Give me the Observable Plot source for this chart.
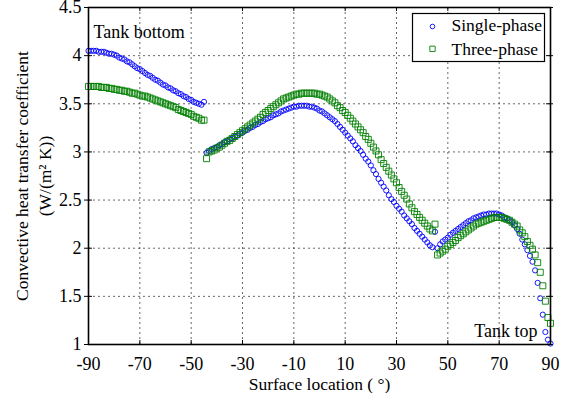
<!DOCTYPE html>
<html><head><meta charset="utf-8">
<script src="https://cdn.jsdelivr.net/npm/d3@7"></script>
<script src="https://cdn.jsdelivr.net/npm/@observablehq/plot@0.6"></script>
<style>html,body{margin:0;padding:0;background:#fff;}</style>
</head><body><div id="chart"></div>
<script>
// Surface location (degrees), three measured segments
const angles1 = [-90,-89,-88,-87,-86,-85,-84,-83,-82,-81,-80,-79,-78,-77,-76,-75,-74,-73,-72,-71,-70,-69,-68,-67,-66,-65,-64,-63,-62,-61,-60,-59,-58,-57,-56,-55,-54,-53,-52,-51,-50,-49,-48,-47,-46,-45];
const angles2 = [-44,-43,-42,-41,-40,-39,-38,-37,-36,-35,-34,-33,-32,-31,-30,-29,-28,-27,-26,-25,-24,-23,-22,-21,-20,-19,-18,-17,-16,-15,-14,-13,-12,-11,-10,-9,-8,-7,-6,-5,-4,-3,-2,-1,0,1,2,3,4,5,6,7,8,9,10,11,12,13,14,15,16,17,18,19,20,21,22,23,24,25,26,27,28,29,30,31,32,33,34,35,36,37,38,39,40,41,42,43,44,45];
const angles3 = [46,47,48,49,50,51,52,53,54,55,56,57,58,59,60,61,62,63,64,65,66,67,68,69,70,71,72,73,74,75,76,77,78,79,80,81,82,83,84,85,86,87,88,89,90];

// Single-phase convective heat transfer coefficient
const single1 = [4.05,4.05,4.05,4.05,4.04,4.04,4.04,4.03,4.02,4.02,4.01,4.00,3.98,3.97,3.96,3.94,3.93,3.91,3.89,3.87,3.86,3.84,3.82,3.80,3.79,3.77,3.75,3.74,3.72,3.70,3.69,3.67,3.66,3.64,3.63,3.61,3.60,3.58,3.57,3.55,3.54,3.52,3.51,3.50,3.49,3.52];
const single2 = [2.99,3.01,3.03,3.04,3.05,3.07,3.08,3.10,3.11,3.13,3.14,3.16,3.17,3.19,3.20,3.22,3.23,3.25,3.26,3.28,3.29,3.31,3.32,3.34,3.35,3.36,3.38,3.39,3.40,3.42,3.43,3.44,3.45,3.46,3.47,3.47,3.48,3.48,3.48,3.48,3.47,3.47,3.46,3.45,3.43,3.42,3.40,3.38,3.36,3.34,3.32,3.29,3.26,3.23,3.20,3.17,3.14,3.11,3.07,3.04,3.01,2.97,2.93,2.90,2.86,2.81,2.77,2.72,2.68,2.64,2.60,2.55,2.51,2.48,2.44,2.41,2.38,2.34,2.31,2.28,2.25,2.21,2.18,2.15,2.12,2.09,2.06,2.03,2.01,2.17];
const single3 = [2.00,2.04,2.07,2.09,2.11,2.14,2.16,2.18,2.20,2.22,2.24,2.26,2.28,2.29,2.31,2.32,2.33,2.34,2.35,2.35,2.36,2.36,2.36,2.36,2.35,2.34,2.32,2.31,2.29,2.27,2.24,2.20,2.15,2.09,2.04,1.98,1.92,1.86,1.77,1.64,1.48,1.31,1.13,1.05,1.01];

// Three-phase convective heat transfer coefficient
const three1 = [3.68,3.68,3.68,3.68,3.68,3.67,3.67,3.67,3.66,3.66,3.65,3.65,3.64,3.64,3.63,3.63,3.62,3.61,3.61,3.60,3.59,3.58,3.58,3.57,3.56,3.55,3.54,3.53,3.52,3.51,3.50,3.49,3.48,3.47,3.46,3.44,3.43,3.42,3.41,3.40,3.39,3.37,3.36,3.35,3.33,3.33];
const three2 = [2.93,3.00,3.01,3.02,3.04,3.05,3.07,3.09,3.11,3.12,3.14,3.16,3.18,3.20,3.22,3.24,3.26,3.28,3.30,3.32,3.34,3.36,3.39,3.41,3.43,3.45,3.47,3.49,3.51,3.53,3.55,3.56,3.57,3.58,3.59,3.60,3.60,3.61,3.61,3.61,3.61,3.61,3.61,3.60,3.60,3.59,3.58,3.57,3.55,3.53,3.51,3.48,3.46,3.43,3.41,3.38,3.35,3.32,3.29,3.26,3.23,3.20,3.16,3.13,3.09,3.05,3.01,2.97,2.92,2.88,2.84,2.80,2.76,2.72,2.68,2.63,2.59,2.55,2.51,2.46,2.42,2.38,2.35,2.32,2.29,2.26,2.23,2.20,2.18,2.25];
const three3 = [1.93,1.95,1.97,1.99,2.02,2.04,2.06,2.08,2.11,2.13,2.15,2.17,2.19,2.21,2.23,2.25,2.26,2.27,2.28,2.29,2.30,2.31,2.32,2.32,2.32,2.32,2.31,2.30,2.29,2.27,2.25,2.23,2.19,2.16,2.12,2.07,2.03,1.99,1.93,1.85,1.75,1.61,1.45,1.28,1.22];

const xTicks = [-90,-70,-50,-30,-10,10,30,50,70,90];
const xTickLabels = ["-90","-70","-50","-30","-10","10","30","50","70","90"];
const yTicks = [1,1.5,2,2.5,3,3.5,4,4.5];
const yTickLabels = ["1","1.5","2","2.5","3","3.5","4","4.5"];
const seriesNames = ["Single-phase","Three-phase"];

function rows(angles, values) { return angles.map((a, i) => ({x: a, y: values[i]})); }
const singleData = [...rows(angles1, single1), ...rows(angles2, single2), ...rows(angles3, single3)];
const threeData = [...rows(angles1, three1), ...rows(angles2, three2), ...rows(angles3, three3)];

const BLUE = "#0000ff", GREEN = "#008000";
const W = 568, H = 393, ML = 88, MR = 18, MT = 7, MB = 49;
const innerW = W - ML - MR, innerH = H - MT - MB;
const tick = 4;
const FS = 18;

const chart = Plot.plot({
  width: W, height: H,
  marginLeft: ML, marginRight: MR, marginTop: MT, marginBottom: MB,
  x: {domain: [-90, 90]},
  y: {domain: [1, 4.5]},
  style: {fontFamily: '"Liberation Serif", "Times New Roman", serif', fontSize: FS + "px", background: "white", color: "black", overflow: "visible"},
  marks: [
    Plot.ruleX(xTicks, {x: d => d, stroke: "#000", strokeWidth: 0.8, strokeDasharray: "2,3", strokeOpacity: 0.75}),
    Plot.ruleY(yTicks, {y: d => d, stroke: "#000", strokeWidth: 0.8, strokeDasharray: "2,3", strokeOpacity: 0.75}),
    Plot.tickX(xTicks, {x: d => d, insetTop: innerH - tick, stroke: "#000", strokeWidth: 1}),
    Plot.tickX(xTicks, {x: d => d, insetBottom: innerH - tick, stroke: "#000", strokeWidth: 1}),
    Plot.tickY(yTicks, {y: d => d, insetLeft: -4, insetRight: innerW - tick, stroke: "#000", strokeWidth: 1}),
    Plot.tickY(yTicks, {y: d => d, insetRight: -3, insetLeft: innerW - tick, stroke: "#000", strokeWidth: 1}),
    Plot.axisX(xTicks, {tickSize: 0, tickPadding: 13, tickFormat: (d) => xTickLabels[xTicks.indexOf(d)], label: null, fontSize: FS}),
    Plot.axisY(yTicks, {tickSize: 0, tickPadding: 7, tickFormat: (d) => yTickLabels[yTicks.indexOf(d)], label: null, fontSize: FS}),
    Plot.dot(singleData, {x: "x", y: "y", r: 2.6, stroke: BLUE, strokeWidth: 0.9, fill: "none"}),
    Plot.dot(threeData, {x: "x", y: "y", r: 3.4, symbol: "square", stroke: GREEN, strokeWidth: 0.9, fill: "none"}),
    Plot.frame({stroke: "#000", strokeWidth: 1.6}),
    Plot.text(["Tank bottom"], {frameAnchor: "top-left", lineAnchor: "middle", text: d => d, dx: 5, dy: 25, textAnchor: "start", fontSize: FS}),
    Plot.text(["Tank top"], {frameAnchor: "bottom-right", lineAnchor: "middle", text: d => d, dx: -13, dy: -13, textAnchor: "end", fontSize: FS}),
    // legend
    Plot.frame({insetLeft: 324, insetRight: 6, insetTop: 6, insetBottom: 283, fill: "white", stroke: "#000", strokeWidth: 1.2}),
    Plot.dot([seriesNames[0]], {frameAnchor: "top-right", dx: -118, dy: 19, r: 2.3, stroke: BLUE, strokeWidth: 0.9, fill: "none"}),
    Plot.dot([seriesNames[1]], {frameAnchor: "top-right", dx: -118, dy: 41.3, r: 3.0, symbol: "square", stroke: GREEN, strokeWidth: 0.9, fill: "none"}),
    Plot.text([seriesNames[0]], {frameAnchor: "top-right", lineAnchor: "middle", text: d => d, dx: -99, dy: 18.3, textAnchor: "start", fontSize: 17.5}),
    Plot.text([seriesNames[1]], {frameAnchor: "top-right", lineAnchor: "middle", text: d => d, dx: -99, dy: 42.3, textAnchor: "start", fontSize: 17.5}),
    // axis titles
    Plot.text(["Convective heat transfer coefficient"], {frameAnchor: "left", lineAnchor: "middle", textAnchor: "middle", text: d => d, rotate: -90, dx: -66, fontSize: 17.5}),
    Plot.text(["(W/(m\u00B2 K))"], {frameAnchor: "left", lineAnchor: "middle", textAnchor: "middle", text: d => d, rotate: -90, dx: -43, fontSize: 17.5}),
    Plot.text(["Surface location ( \u00B0)"], {frameAnchor: "bottom", lineAnchor: "middle", textAnchor: "middle", text: d => d, dy: 39.5, fontSize: 17.5})
  ]
});
document.getElementById("chart").appendChild(chart);
</script>
</body></html>
